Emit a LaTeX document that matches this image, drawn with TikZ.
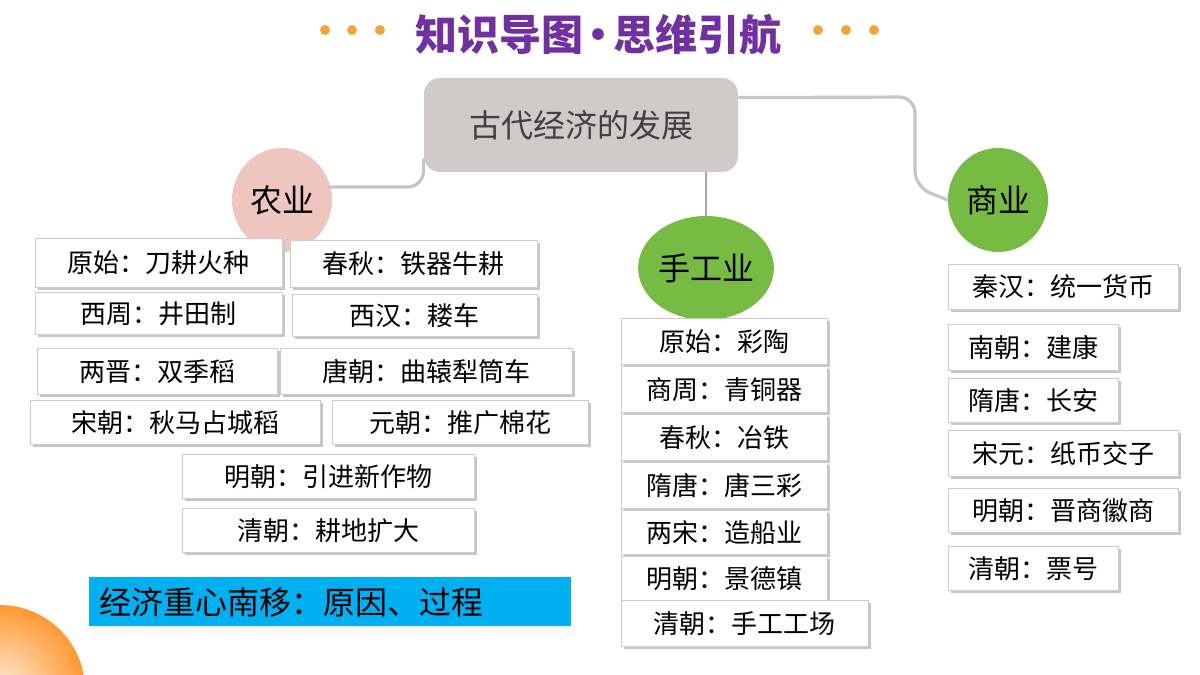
\documentclass[tikz,border=0pt]{standalone}
\usepackage{fontspec}
\setmainfont{Noto Sans CJK SC}
\usetikzlibrary{shadows,shapes.geometric}
\definecolor{titlepurple}{HTML}{7030A0}
\definecolor{dotorange}{HTML}{F2A43A}
\definecolor{hubgray}{HTML}{CFCBCA}
\definecolor{farmpink}{HTML}{EFC5C0}
\definecolor{leafgreen}{HTML}{77BB44}
\definecolor{skyblue}{HTML}{00B0F0}
\tikzset{
  cell/.style={draw=gray!40,fill=white,font=\fontsize{13}{15}\selectfont,inner sep=0pt,
    drop shadow={shadow xshift=1.5pt,shadow yshift=-1.5pt,fill=gray!45,opacity=1}},
  topic/.style={ellipse,fill=#1,minimum width=50pt,minimum height=52pt,inner sep=0pt,font=\fontsize{16}{18}\selectfont},
  link/.style={draw=gray!45,line width=1.6pt,rounded corners=8pt},
  dot/.style={circle,fill=dotorange,minimum size=5pt,inner sep=0pt}
}
\newcommand\cell[6]{\node[cell,anchor=north west,minimum width={(#4-#2)*0.5pt},minimum height={(#5-#3)*0.5pt}] (#1) at (#2,#3) {#6};}
\begin{document}
\begin{tikzpicture}[x=0.5pt,y=-0.5pt]
  \useasboundingbox (0,0) rectangle (1200,675);
  % corner decoration
  \begin{scope}
    \clip (0,0) rectangle (1200,675);
    \shade[inner color=orange!15,outer color=orange!80] (0,690) circle (85);
  \end{scope}
  % title
  \node[font=\fontsize{21}{24}\selectfont\bfseries,text=titlepurple] (title) at (598,35) {知识导图\kern-3pt•\kern-3pt思维引航};
  \foreach \x [count=\i] in {325,352,380}
    \node[dot] (ldot\i) at (\x,30) {};
  \foreach \x [count=\i] in {818,846,874}
    \node[dot] (rdot\i) at (\x,30) {};
  % hub
  \node[fill=hubgray,rounded corners=8pt,minimum width=157pt,minimum height=47pt,font=\fontsize{16}{18}\selectfont,text=black!75] (hub) at (581,125) {古代经济的发展};
  \node[topic=farmpink] (farm) at (282,200) {农业};
  \node[topic=leafgreen] (craft) at (706,268) {手工业};
  \node[topic=leafgreen] (trade) at (998,200) {商业};
  \coordinate (farmend) at (328,187);
  \draw[link] (hub.south west) ++(0,-14) |- (farmend);
  \draw[link,draw=gray!70,line width=1pt] (craft.north |- hub.south) -- (craft.north);
  \draw[link] (hub.north east) ++(0,20) -- (915,97) -- (915,187) -- (trade.west);
  % farming
  \cell{f1}{35}{238}{282}{287}{原始：刀耕火种}
  \cell{f2}{290}{240}{537}{287}{春秋：铁器牛耕}
  \cell{f3}{35}{292}{282}{334}{西周：井田制}
  \cell{f4}{292}{294}{537}{336}{西汉：耧车}
  \cell{f5}{37}{348}{277}{394}{两晋：双季稻}
  \cell{f6}{280}{348}{572}{394}{唐朝：曲辕犁筒车}
  \cell{f7}{30}{400}{320}{444}{宋朝：秋马占城稻}
  \cell{f8}{332}{400}{588}{444}{元朝：推广棉花}
  \cell{f9}{182}{454}{474}{498}{明朝：引进新作物}
  \cell{f10}{182}{508}{474}{552}{清朝：耕地扩大}
  \node[fill=skyblue,anchor=north west,minimum width=241pt,minimum height=24.5pt,text width=231pt,font=\fontsize{16}{18}\selectfont] (shift) at (89,577) {经济重心南移：原因、过程};
  % handicraft
  \cell{c1}{621}{318}{827}{364}{原始：彩陶}
  \cell{c2}{621}{366}{827}{412}{商周：青铜器}
  \cell{c3}{621}{414}{827}{460}{春秋：冶铁}
  \cell{c4}{621}{462}{827}{508}{隋唐：唐三彩}
  \cell{c5}{621}{510}{827}{554}{两宋：造船业}
  \cell{c6}{621}{556}{827}{600}{明朝：景德镇}
  \cell{c7}{621}{600}{868}{646}{清朝：手工工场}
  % commerce
  \cell{t1}{948}{264}{1178}{309}{秦汉：统一货币}
  \cell{t2}{948}{324}{1118}{370}{南朝：建康}
  \cell{t3}{948}{378}{1118}{422}{隋唐：长安}
  \cell{t4}{948}{430}{1178}{476}{宋元：纸币交子}
  \cell{t5}{948}{488}{1178}{532}{明朝：晋商徽商}
  \cell{t6}{948}{546}{1118}{590}{清朝：票号}
\end{tikzpicture}
\end{document}
